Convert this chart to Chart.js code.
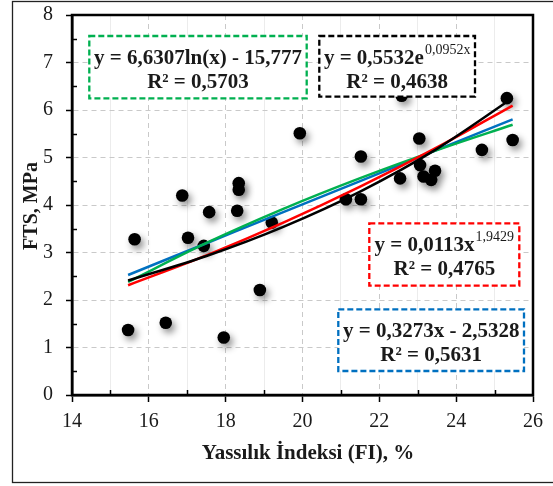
<!DOCTYPE html>
<html><head><meta charset="utf-8">
<script src="https://cdn.jsdelivr.net/npm/chart.js@4.4.1/dist/chart.umd.min.js"></script>
<style>html,body{margin:0;padding:0;background:#fff;}#wrap{position:relative;width:553px;height:486px;}</style>
</head><body><div id="wrap"><canvas id="c" width="553" height="486"></canvas></div>
<script>
// ---- data ----
const fiValues  = [15.46, 15.63, 16.44, 16.87, 17.02, 17.43, 17.57, 17.95, 18.30, 18.34, 18.34, 18.89, 19.20, 19.93,
                   21.13, 21.52, 21.52, 22.54, 22.58, 23.04, 23.06, 23.15, 23.35, 23.45, 24.67, 25.32, 25.47];
const ftsValues = [1.37, 3.28, 1.52, 4.20, 3.31, 3.14, 3.85, 1.21, 3.88, 4.32, 4.46, 2.21, 3.63, 5.51,
                   4.12, 4.12, 5.02, 4.56, 6.30, 5.40, 4.84, 4.60, 4.53, 4.72, 5.16, 6.25, 5.37];
// trendline values
const trendX     = [15.46, 17.5, 19.5, 21.5, 23.5, 25.47];
const linearFit  = [2.527, 3.195, 3.850, 4.504, 5.159, 5.804];
const logFit     = [2.380, 3.201, 3.919, 4.566, 5.156, 5.690];
const powerFit   = [2.310, 2.939, 3.627, 4.385, 5.212, 6.094];
const expFit     = [2.410, 2.927, 3.541, 4.283, 5.182, 6.251];
const xTickLabels = [14, 16, 18, 20, 22, 24, 26];
const yTickLabels = [0, 1, 2, 3, 4, 5, 6, 7, 8];
const xTitle = 'Yassılık İndeksi (FI), %';
const yTitle = 'FTS, MPa';
const eqLog    = [['y = 6,6307ln(x) - 15,777', ''], 'R² = 0,5703'];
const eqExp    = [['y = 0,5532e', '0,0952x'], 'R² = 0,4638'];
const eqPower  = [['y = 0,0113x', '1,9429'], 'R² = 0,4765'];
const eqLinear = [['y = 0,3273x - 2,5328', ''], 'R² = 0,5631'];

// ---- styling / layout ----
const SERIF = "'Liberation Serif','Times New Roman',serif";
const C_BLUE = '#0070C0', C_GREEN = '#00B050', C_RED = '#FF0000', C_BLACK = '#000000';
const boxes = [
  {eq: eqLog,    color: C_GREEN, x1: 89.3,  y1: 36,    x2: 306.7, y2: 98.3},
  {eq: eqExp,    color: C_BLACK, x1: 319.3, y1: 36,    x2: 475,   y2: 96.7},
  {eq: eqPower,  color: C_RED,   x1: 369.3, y1: 223.3, x2: 519.3, y2: 285.7},
  {eq: eqLinear, color: C_BLUE,  x1: 338.3, y1: 309.3, x2: 524,   y2: 371}
];

const pts = fiValues.map((x, i) => ({x, y: ftsValues[i]}));
const mk = (ys) => trendX.map((x, i) => ({x, y: ys[i]}));
const lineDs = (label, ys, color) => ({
  type: 'line', label, data: mk(ys), borderColor: color, backgroundColor: color,
  borderWidth: 2.5, pointRadius: 0, showLine: true, fill: false, cubicInterpolationMode: 'monotone'
});

const decor = {
  id: 'decor',
  beforeDraw(chart) {
    const c = chart.ctx;
    c.save();
    c.fillStyle = '#fff'; c.fillRect(0, 0, chart.width, chart.height);
    c.strokeStyle = '#222'; c.lineWidth = 1.3;
    c.strokeRect(12.5, 1.5, 560, 481);
    c.restore();
  },
  beforeDatasetDraw(chart, args) {
    if (args.index === 4) {
      const c = chart.ctx;
      c.save();
      c.shadowColor = 'rgba(0,0,0,0.45)'; c.shadowBlur = 7; c.shadowOffsetX = 3; c.shadowOffsetY = 4;
    }
  },
  afterDatasetDraw(chart, args) {
    if (args.index === 4) chart.ctx.restore();
  },
  afterDatasetsDraw(chart) {
    const c = chart.ctx;
    // equation boxes
    boxes.forEach(b => {
      c.save();
      c.fillStyle = '#fff';
      c.fillRect(b.x1, b.y1, b.x2 - b.x1, b.y2 - b.y1);
      c.strokeStyle = b.color; c.lineWidth = 2.3; c.setLineDash([6, 3]);
      c.strokeRect(b.x1, b.y1, b.x2 - b.x1, b.y2 - b.y1);
      c.setLineDash([]);
      const cx = (b.x1 + b.x2) / 2;
      const base1 = b.y1 + 27.5, base2 = base1 + 24.5;
      c.fillStyle = '#1a1a1a'; c.textBaseline = 'alphabetic'; c.textAlign = 'left';
      const mainF = 'bold 21px ' + SERIF, supF = '14px ' + SERIF;
      c.font = mainF; const w1 = c.measureText(b.eq[0][0]).width;
      c.font = supF;  const w2 = b.eq[0][1] ? c.measureText(b.eq[0][1]).width + 1 : 0;
      let x = cx - (w1 + w2) / 2;
      c.font = mainF; c.fillText(b.eq[0][0], x, base1);
      if (b.eq[0][1]) { c.font = supF; c.fillText(b.eq[0][1], x + w1 + 1, base1 - 9.5); }
      c.font = mainF; c.textAlign = 'center';
      c.fillText(b.eq[1], cx, base2);
      c.restore();
    });
  },
  afterDraw(chart) {
    const c = chart.ctx, a = chart.chartArea, xs = chart.scales.x, ys = chart.scales.y;
    c.save();
    // minor ticks (inside)
    c.strokeStyle = '#000'; c.lineWidth = 1.5;
    for (let v = 15; v < 26; v += 2) {
      const px = Math.round(xs.getPixelForValue(v)) + 0.5;
      c.beginPath(); c.moveTo(px, a.bottom); c.lineTo(px, a.bottom - 5); c.stroke();
    }
    for (let v = 0.5; v < 8; v += 1) {
      const py = Math.round(ys.getPixelForValue(v)) + 0.5;
      c.beginPath(); c.moveTo(a.left, py); c.lineTo(a.left + 5, py); c.stroke();
    }
    // frame
    c.lineWidth = 2.5; c.strokeStyle = '#000';
    c.strokeRect(a.left, a.top, a.right - a.left, a.bottom - a.top);
    // axis titles
    c.fillStyle = '#1a1a1a';
    c.font = 'bold 21px ' + SERIF; c.textAlign = 'center'; c.textBaseline = 'alphabetic';
    c.fillText(xTitle, 308, 459);
    c.translate(37, 206); c.rotate(-Math.PI / 2);
    c.font = 'bold 20px ' + SERIF;
    c.fillText(yTitle, 0, 0);
    c.restore();
  }
};

new Chart(document.getElementById('c'), {
  type: 'scatter',
  data: {
    datasets: [
      lineDs('Üstel', expFit, C_BLACK),
      lineDs('Üs', powerFit, C_RED),
      lineDs('Logaritmik', logFit, C_GREEN),
      lineDs('Doğrusal', linearFit, C_BLUE),
      {type: 'scatter', label: 'FTS', data: pts, backgroundColor: '#000', borderColor: '#000',
       pointRadius: 6.3, pointHoverRadius: 6.3, borderWidth: 0}
    ]
  },
  options: {
    responsive: false, devicePixelRatio: 1, animation: false,
    layout: {padding: {left: 0, top: 15, right: 20, bottom: 0}},
    plugins: {legend: {display: false}, tooltip: {enabled: false}},
    scales: {
      x: {
        type: 'linear', min: 14, max: 26,
        afterFit: s => { s.height = 91; s.paddingLeft = 0; s.paddingRight = 0; },
        ticks: {stepSize: 1, autoSkip: false, maxRotation: 0, padding: 8, color: '#1a1a1a',
                font: {family: SERIF, size: 20},
                callback: v => xTickLabels.includes(v) ? String(v) : ''},
        grid: {
          color: ctx => (ctx.tick && ctx.tick.value % 2 === 0) ? '#c9c9c9' : '#ececec',
          lineWidth: 1, tickLength: 7, tickWidth: 1.5,
          tickColor: ctx => (ctx.tick && ctx.tick.value % 2 === 0) ? '#000' : 'rgba(0,0,0,0)'
        },
        border: {display: true, color: '#000', width: 2.5,
                 dash: ctx => (ctx.tick && ctx.tick.value % 2 === 0) ? [5, 4] : []}
      },
      y: {
        type: 'linear', min: 0, max: 8,
        afterFit: s => { s.width = 72; s.paddingTop = 0; s.paddingBottom = 0; },
        ticks: {stepSize: 0.5, autoSkip: false, padding: 13, color: '#1a1a1a',
                font: {family: SERIF, size: 20},
                callback: v => yTickLabels.includes(v) ? String(v) : ''},
        grid: {
          color: ctx => (ctx.tick && Number.isInteger(ctx.tick.value)) ? '#c9c9c9' : 'rgba(0,0,0,0)',
          lineWidth: 1, tickLength: 6, tickWidth: 1.5,
          tickColor: ctx => (ctx.tick && Number.isInteger(ctx.tick.value)) ? '#000' : 'rgba(0,0,0,0)'
        },
        border: {display: true, color: '#000', width: 2.5, dash: [5, 4]}
      }
    }
  },
  plugins: [decor]
});
</script></body></html>
